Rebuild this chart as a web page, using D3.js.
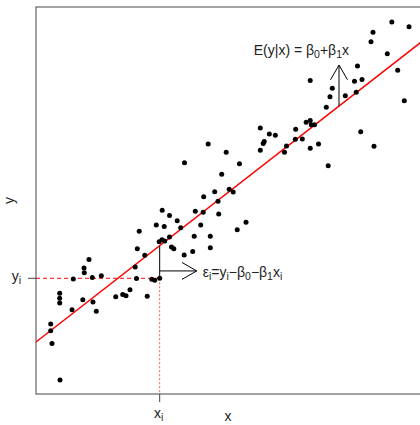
<!DOCTYPE html>
<html>
<head>
<meta charset="utf-8">
<script src="https://cdnjs.cloudflare.com/ajax/libs/d3/7.8.5/d3.min.js"></script>
<style>
body { margin: 0; background: #fff; }
text { font-family: "Liberation Sans", Arial, sans-serif; fill: #222; }
</style>
</head>
<body>
<div id="canvas"></div>
<script>
var xs = [0.625, 0.417, 0.383, 0.383, 0.617, 0.617, 0.617, 0.938, 0.971, 1.219,
          1.250, 1.258, 1.380, 1.466, 1.484, 1.570, 1.701, 2.076, 2.258, 2.344,
          2.448, 2.583, 2.617, 2.638, 2.688, 2.833, 2.896, 3.016, 3.091, 3.221,
          3.208, 3.281, 3.352, 3.133, 3.339, 3.286, 3.477, 3.477, 3.529, 3.589,
          3.677, 3.768, 3.859, 3.867, 4.081, 4.120, 4.148, 4.289, 4.354, 4.367,
          4.484, 4.539, 4.539, 4.654, 4.740, 4.758, 4.836, 4.953, 5.031, 5.135,
          5.240, 5.299, 5.469, 5.841, 5.841, 5.917, 5.943, 6.076, 6.232, 6.471,
          6.523, 6.763, 6.753, 6.935, 7.036, 7.141, 7.169, 7.253, 7.141, 7.357,
          7.609, 7.560, 7.656, 7.716, 7.141, 8.055, 8.339, 8.294, 8.490, 8.372,
          8.456, 8.802, 8.724, 8.776, 9.148, 9.266, 9.419, 9.591, 9.714];
var ys = [0.362, 1.305, 1.636, 1.809, 2.602, 2.475, 2.351, 2.178, 2.972, 2.437,
          3.256, 3.134, 3.475, 3.010, 2.377, 2.137, 3.054, 2.512, 2.571, 2.537,
          2.693, 3.282, 2.984, 3.755, 4.204, 3.584, 2.527, 2.966, 2.938, 2.990,
          3.935, 3.984, 3.953, 4.367, 4.328, 4.747, 4.612, 4.057, 3.798, 3.752,
          4.478, 4.297, 3.592, 5.977, 3.682, 4.075, 4.724, 4.367, 4.698, 5.096,
          6.460, 4.075, 3.780, 5.227, 4.979, 4.651, 5.677, 6.248, 5.289, 5.220,
          4.243, 5.951, 4.439, 6.873, 6.300, 6.473, 6.525, 6.718, 6.685, 6.245,
          6.408, 6.840, 6.581, 6.589, 7.023, 7.067, 6.959, 6.959, 6.351, 6.460,
          5.897, 7.408, 7.682, 7.899, 8.101, 7.705, 7.796, 8.080, 8.127, 8.475,
          6.775, 6.401, 9.103, 9.346, 8.793, 9.612, 8.364, 7.579, 9.488];

// fitted line
var beta0 = 1.344, beta1 = 0.7726;
var pick = 29;          // the highlighted observation (x_i, y_i)
var epsY = 3.18;        // height of the residual arrow
var eArrowX = 7.891, eArrowTop = 8.50;   // E(y|x) arrow

var width = 420, height = 425;
var svg = d3.select("#canvas").append("svg").attr("width", width).attr("height", height);

var x = d3.scaleLinear().domain([0, 10]).range([36, 420]);
var y = d3.scaleLinear().domain([0, 10]).range([394, 7]);
var fit = function(v) { return beta0 + beta1 * v; };

// little helper for text with subscripts
var mathText = function(g, px, py, parts, size, anchor) {
	var t = g.append("text").attr("x", px).attr("y", py)
		.style("font-size", size + "px")
		.attr("text-anchor", anchor || "start");
	var shifted = false;
	parts.forEach(function(p) {
		var s = t.append("tspan").text(p[0]);
		if (p[1] && !shifted) { s.attr("dy", 3).style("font-size", (size * 0.75) + "px"); shifted = true; }
		else if (p[1]) { s.style("font-size", (size * 0.75) + "px"); }
		else if (shifted) { s.attr("dy", -3); shifted = false; }
	});
	return t;
};

var arrowHead = function(x2, y2, ang) {
	// open arrow head, R style (30 degrees)
	var len = 17;
	[-Math.PI / 6, Math.PI / 6].forEach(function(d) {
		svg.append("line")
			.attr("x1", x2).attr("y1", y2)
			.attr("x2", x2 - len * Math.cos(ang + d))
			.attr("y2", y2 - len * Math.sin(ang + d))
			.attr("stroke", "#000").attr("stroke-width", 1);
	});
};

// box (right side runs off the picture)
svg.append("rect")
	.attr("x", x(0)).attr("y", y(10))
	.attr("width", x(10.6) - x(0)).attr("height", y(0) - y(10))
	.attr("fill", "none").attr("stroke", "#444").attr("stroke-width", 1);

// dashed guides to x_i and y_i
var xi = xs[pick], yi = ys[pick];
svg.append("line")
	.attr("x1", x(0)).attr("y1", y(yi)).attr("x2", x(xi)).attr("y2", y(yi))
	.attr("stroke", "#ff0000").attr("stroke-width", 1).attr("stroke-dasharray", "4,3");
svg.append("line")
	.attr("x1", x(xi)).attr("y1", y(yi)).attr("x2", x(xi)).attr("y2", y(0))
	.attr("stroke", "#ff5050").attr("stroke-width", 1).attr("stroke-dasharray", "2,2");

// ticks
svg.append("line").attr("x1", x(xi)).attr("x2", x(xi)).attr("y1", y(0)).attr("y2", y(0) + 8)
	.attr("stroke", "#444");
svg.append("line").attr("x1", x(0) - 8).attr("x2", x(0)).attr("y1", y(yi)).attr("y2", y(yi))
	.attr("stroke", "#444");

// regression line
svg.append("line")
	.attr("x1", x(0)).attr("y1", y(fit(0)))
	.attr("x2", x(10.6)).attr("y2", y(fit(10.6)))
	.attr("stroke", "#ff0000").attr("stroke-width", 1.5);

// points
svg.selectAll("circle.pt").data(xs).enter().append("circle")
	.attr("class", "pt")
	.attr("cx", function(d) { return x(d); })
	.attr("cy", function(d, i) { return y(ys[i]); })
	.attr("r", 2.5)
	.attr("fill", "#000");

// residual: vertical segment and arrow to the label
svg.append("line")
	.attr("x1", x(xi)).attr("y1", y(yi)).attr("x2", x(xi)).attr("y2", y(fit(xi)))
	.attr("stroke", "#000").attr("stroke-width", 1);
svg.append("line")
	.attr("x1", x(xi)).attr("y1", y(epsY)).attr("x2", x(xi) + 37).attr("y2", y(epsY))
	.attr("stroke", "#000").attr("stroke-width", 1);
arrowHead(x(xi) + 37, y(epsY), 0);
mathText(svg, x(xi) + 43, y(epsY) + 6,
	[["ε"], ["i", 1], ["=y"], ["i", 1], ["−β"], ["0", 1], ["−β"], ["1", 1], ["x"], ["i", 1]], 14);

// E(y|x) arrow
svg.append("line")
	.attr("x1", x(eArrowX)).attr("y1", y(fit(eArrowX))).attr("x2", x(eArrowX)).attr("y2", y(eArrowTop))
	.attr("stroke", "#000").attr("stroke-width", 1);
arrowHead(x(eArrowX), y(eArrowTop), -Math.PI / 2);
mathText(svg, x(eArrowX) + 10, y(eArrowTop) - 10,
	[["E(y|x) = β"], ["0", 1], ["+β"], ["1", 1], ["x"]], 14, "end");

// axis labels
svg.append("text").attr("x", x(5)).attr("y", 421).attr("text-anchor", "middle")
	.style("font-size", "14px").text("x");
svg.append("text").attr("transform", "translate(14," + y(5) + ") rotate(-90)")
	.attr("text-anchor", "middle").style("font-size", "14px").text("y");
mathText(svg, x(xi) - 1, 418, [["x"], ["i", 1]], 14, "middle");
mathText(svg, 21, y(yi) + 3, [["y"], ["i", 1]], 14, "end");
</script>
</body>
</html>
